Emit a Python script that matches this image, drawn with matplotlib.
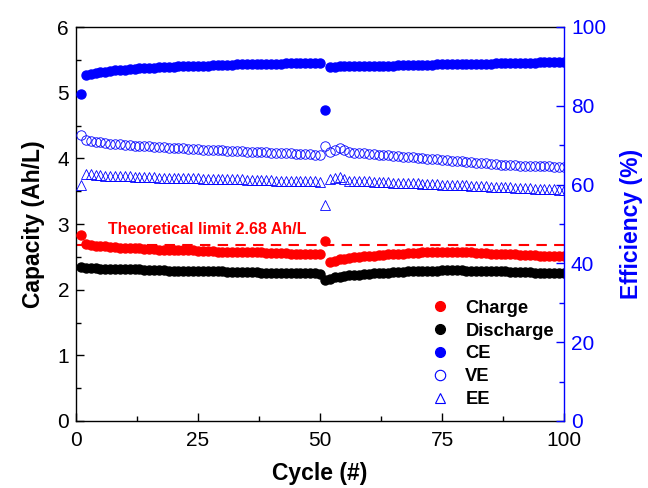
import matplotlib
matplotlib.use("Agg")
import matplotlib.pyplot as plt
from matplotlib.lines import Line2D
from matplotlib.ticker import MultipleLocator

plt.rcParams['font.family'] = ['Liberation Sans', 'DejaVu Sans']

cycles = list(range(1, 101))

charge = [2.84,
          2.69, 2.68, 2.67, 2.66, 2.66, 2.65, 2.65, 2.64, 2.64,
          2.63, 2.63, 2.63, 2.62, 2.62, 2.62, 2.61, 2.61, 2.61, 2.61,
          2.60, 2.60, 2.60, 2.60, 2.59, 2.59, 2.59, 2.59, 2.58, 2.58,
          2.58, 2.58, 2.58, 2.57, 2.57, 2.57, 2.57, 2.57, 2.56, 2.56,
          2.56, 2.56, 2.56, 2.55, 2.55, 2.55, 2.55, 2.54, 2.54, 2.54,
          2.74,
          2.42, 2.44, 2.46, 2.47, 2.48, 2.49, 2.50, 2.51, 2.51,
          2.52, 2.53, 2.53, 2.54, 2.54, 2.55, 2.55, 2.56, 2.56, 2.56,
          2.57, 2.57, 2.57, 2.58, 2.58, 2.58, 2.58, 2.58, 2.57, 2.57,
          2.57, 2.56, 2.56, 2.56, 2.55, 2.55, 2.55, 2.54, 2.54, 2.54,
          2.53, 2.53, 2.53, 2.53, 2.52, 2.52, 2.52, 2.52, 2.51, 2.51]

discharge = [2.34,
             2.33, 2.33, 2.33, 2.32, 2.32, 2.32, 2.32, 2.31, 2.31,
             2.31, 2.31, 2.31, 2.30, 2.30, 2.30, 2.30, 2.30, 2.29, 2.29,
             2.29, 2.29, 2.29, 2.29, 2.28, 2.28, 2.28, 2.28, 2.28, 2.28,
             2.27, 2.27, 2.27, 2.27, 2.27, 2.27, 2.27, 2.26, 2.26, 2.26,
             2.26, 2.26, 2.26, 2.26, 2.26, 2.25, 2.25, 2.25, 2.25, 2.24,
             2.15,
             2.17, 2.19, 2.20, 2.21, 2.22, 2.23, 2.23, 2.24, 2.24,
             2.25, 2.25, 2.26, 2.26, 2.27, 2.27, 2.27, 2.28, 2.28, 2.28,
             2.29, 2.29, 2.29, 2.29, 2.30, 2.30, 2.30, 2.30, 2.30, 2.29,
             2.29, 2.29, 2.29, 2.28, 2.28, 2.28, 2.28, 2.28, 2.27, 2.27,
             2.27, 2.27, 2.27, 2.26, 2.26, 2.26, 2.26, 2.26, 2.26, 2.26]

ce = [82.9,
      87.7, 88.0, 88.3, 88.5, 88.7, 88.9, 89.0, 89.1, 89.2,
      89.3, 89.4, 89.5, 89.6, 89.6, 89.7, 89.8, 89.8, 89.9, 89.9,
      90.0, 90.0, 90.1, 90.1, 90.2, 90.2, 90.2, 90.3, 90.3, 90.4,
      90.4, 90.4, 90.5, 90.5, 90.5, 90.6, 90.6, 90.6, 90.7, 90.7,
      90.7, 90.7, 90.8, 90.8, 90.8, 90.8, 90.9, 90.9, 90.9, 90.9,
      79.0,
      89.9, 89.9, 90.0, 90.0, 90.0, 90.0, 90.1, 90.1, 90.1,
      90.1, 90.2, 90.2, 90.2, 90.2, 90.3, 90.3, 90.3, 90.3, 90.4,
      90.4, 90.4, 90.4, 90.5, 90.5, 90.5, 90.5, 90.6, 90.6, 90.6,
      90.6, 90.7, 90.7, 90.7, 90.7, 90.8, 90.8, 90.8, 90.8, 90.9,
      90.9, 90.9, 90.9, 90.9, 91.0, 91.0, 91.0, 91.0, 91.0, 91.0]

ve = [72.6,
      71.4, 71.1, 70.9, 70.7, 70.5, 70.4, 70.3, 70.2, 70.1,
      70.0, 69.9, 69.8, 69.8, 69.7, 69.6, 69.5, 69.5, 69.4, 69.3,
      69.3, 69.2, 69.1, 69.1, 69.0, 68.9, 68.9, 68.8, 68.8, 68.7,
      68.6, 68.6, 68.5, 68.5, 68.4, 68.3, 68.3, 68.2, 68.2, 68.1,
      68.0, 68.0, 67.9, 67.9, 67.8, 67.8, 67.7, 67.7, 67.6, 67.6,
      69.7,
      68.4, 68.8, 69.3, 68.8, 68.3, 68.1, 68.0, 67.9, 67.8,
      67.7, 67.6, 67.5, 67.4, 67.3, 67.2, 67.1, 67.0, 66.9, 66.8,
      66.7, 66.6, 66.5, 66.4, 66.3, 66.2, 66.1, 66.0, 65.9, 65.8,
      65.7, 65.6, 65.5, 65.4, 65.3, 65.2, 65.1, 65.0, 64.9, 64.9,
      64.8, 64.8, 64.7, 64.7, 64.6, 64.6, 64.6, 64.5, 64.5, 64.5]

ee = [59.8,
      62.8, 62.6, 62.5, 62.4, 62.3, 62.3, 62.2, 62.2, 62.1,
      62.1, 62.0, 62.0, 61.9, 61.9, 61.9, 61.8, 61.8, 61.8, 61.7,
      61.7, 61.7, 61.6, 61.6, 61.6, 61.5, 61.5, 61.5, 61.4, 61.4,
      61.4, 61.3, 61.3, 61.3, 61.2, 61.2, 61.2, 61.1, 61.1, 61.1,
      61.0, 61.0, 61.0, 60.9, 60.9, 60.9, 60.8, 60.8, 60.8, 60.7,
      54.9,
      61.4, 61.7, 62.0, 61.4, 61.0, 60.9, 60.9, 60.8, 60.8,
      60.7, 60.7, 60.6, 60.6, 60.5, 60.5, 60.4, 60.4, 60.3, 60.3,
      60.2, 60.2, 60.1, 60.1, 60.0, 60.0, 59.9, 59.9, 59.8, 59.8,
      59.7, 59.7, 59.6, 59.6, 59.5, 59.5, 59.4, 59.4, 59.3, 59.2,
      59.2, 59.1, 59.1, 59.0, 59.0, 58.9, 58.9, 58.8, 58.7, 58.6]

theoretical_limit = 2.68
x_ticks = [0, 25, 50, 75, 100]
y_left_ticks = [0, 1, 2, 3, 4, 5, 6]
y_right_ticks = [0, 20, 40, 60, 80, 100]

BLUE = '#0000ff'
RED = '#ff0000'

fig = plt.figure(figsize=(6.48, 4.88), dpi=100)
ax = fig.add_axes([76/648, 1 - 421/488, 488/648, 394/488])
ax2 = ax.twinx()

ax.axhline(theoretical_limit, color=RED, ls=(0, (5, 3.5)), lw=1.5, zorder=1)
ax.plot(cycles, charge, 'o', color=RED, ms=6.5, mec=RED, zorder=3)
ax.plot(cycles, discharge, 'o', color='black', ms=6.5, mec='black', zorder=3)

ax2.plot(cycles, ce, 'o', color=BLUE, ms=6.5, mec=BLUE)
ax2.plot(cycles, ve, 'o', mfc='none', mec=BLUE, ms=6.8, mew=0.6)
ax2.plot(cycles, ee, '^', mfc='none', mec=BLUE, ms=7.0, mew=0.6)

ax.set_xlim(0, 100)
ax.set_ylim(0, 6)
ax2.set_ylim(0, 100)
ax.set_xticks(x_ticks)
ax.set_yticks(y_left_ticks)
ax2.set_yticks(y_right_ticks)
ax.xaxis.set_minor_locator(MultipleLocator(12.5))
ax.yaxis.set_minor_locator(MultipleLocator(0.5))
ax2.yaxis.set_minor_locator(MultipleLocator(10))

ax.tick_params(axis='x', which='major', direction='in', length=6, width=1, labelsize=15, pad=7)
ax.tick_params(axis='y', which='major', direction='in', length=6, width=1, labelsize=15, pad=5)
ax.tick_params(axis='both', which='minor', direction='in', length=3.5, width=1)
ax.tick_params(axis='y', which='both', right=False)
ax.tick_params(axis='x', which='both', top=False)
ax2.tick_params(axis='y', which='major', direction='in', length=6, width=1, colors=BLUE, labelsize=15, pad=5)
ax2.tick_params(axis='y', which='minor', direction='in', length=3.5, width=1, colors=BLUE)

for s in ['left', 'bottom', 'top']:
    ax2.spines[s].set_visible(False)
ax.spines['right'].set_visible(False)
ax2.spines['right'].set_color(BLUE)
for s in ['left', 'bottom', 'top']:
    ax.spines[s].set_linewidth(1)
ax2.spines['right'].set_linewidth(1)

ax.set_xlabel('Cycle (#)', fontsize=16.5, fontweight='bold', labelpad=9)
ax.set_ylabel('Capacity (Ah/L)', fontsize=16.5, fontweight='bold', labelpad=9)
ax2.set_ylabel('Efficiency (%)', fontsize=16.5, fontweight='bold', color=BLUE, labelpad=10)

ax.text(6.5, 2.91, 'Theoretical limit 2.68 Ah/L', color=RED, fontsize=11.5,
        fontweight='bold', va='center', ha='left')

handles = [
    Line2D([], [], ls='none', marker='o', color=RED, ms=7),
    Line2D([], [], ls='none', marker='o', color='black', ms=7),
    Line2D([], [], ls='none', marker='o', color=BLUE, ms=7),
    Line2D([], [], ls='none', marker='o', mfc='none', mec=BLUE, ms=7.5, mew=0.8),
    Line2D([], [], ls='none', marker='^', mfc='none', mec=BLUE, ms=7.5, mew=0.8),
]
labels = ['Charge', 'Discharge', 'CE', 'VE', 'EE']
leg = ax2.legend(handles, labels, loc='lower left', bbox_to_anchor=(0.70, 0.0),
                 frameon=False, prop={'weight': 'bold', 'size': 13.2},
                 handlelength=1.0, handletextpad=0.9, labelspacing=0.32,
                 borderaxespad=0.3)

fig.savefig('out.png', dpi=100)
